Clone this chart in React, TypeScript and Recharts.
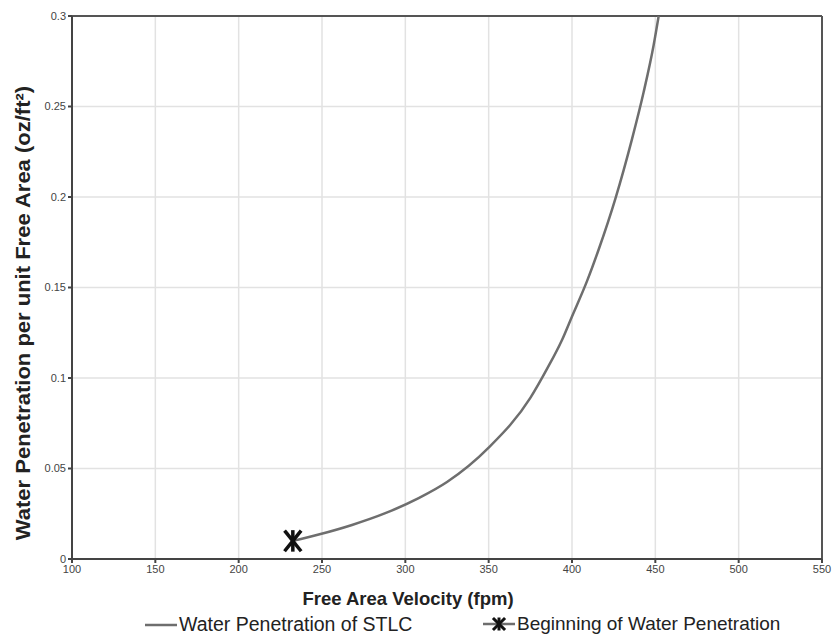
import React from "react";
import {
    ComposedChart,
    Line,
    Scatter,
    XAxis,
    YAxis,
    CartesianGrid,
    ReferenceLine,
} from "recharts";

// curve
const velocity = [232.5, 248, 268, 288, 308, 325, 350, 375, 385, 394, 400, 409, 416, 426, 436, 443, 449, 452];
const penetration = [0.01, 0.0135, 0.0188, 0.0253, 0.0336, 0.0425, 0.0615, 0.089, 0.105, 0.121, 0.134, 0.1535, 0.171, 0.199, 0.232, 0.258, 0.284, 0.3];

// marker where penetration starts
const startVelocity = [232.5];
const startPenetration = [0.01];

const xTicks = [100, 150, 200, 250, 300, 350, 400, 450, 500, 550];
const yTicks = [0, 0.05, 0.1, 0.15, 0.2, 0.25, 0.3];

const FONT = '"Liberation Sans", Arial, sans-serif';

const curve = velocity.map((v, i) => ({ x: v, y: penetration[i] }));
const start = startVelocity.map((v, i) => ({ x: v, y: startPenetration[i] }));

function StarMarker(props: any) {
    const { cx, cy } = props;
    const r = 9;
    return (
        <g stroke="#111" strokeWidth={3.5} strokeLinecap="square">
            <line x1={cx - r * 0.8} y1={cy - r} x2={cx + r * 0.8} y2={cy + r} />
            <line x1={cx - r * 0.8} y1={cy + r} x2={cx + r * 0.8} y2={cy - r} />
            <line x1={cx} y1={cy - r} x2={cx} y2={cy + r} />
        </g>
    );
}

export default function App() {
    return (
        <div style={{ position: "absolute", left: 0, top: 0, width: 840, height: 638, background: "#fff", fontFamily: FONT }}>
            <ComposedChart
                width={840}
                height={638}
                margin={{ top: 16, right: 18, bottom: 49, left: 0 }}
            >
                <CartesianGrid stroke="#e2e2e2" strokeWidth={1.5} />
                <XAxis
                    type="number"
                    dataKey="x"
                    domain={[100, 550]}
                    ticks={xTicks}
                    height={30}
                    tick={{ fill: "#444", fontSize: 11, fontFamily: FONT }}
                    tickSize={4}
                    stroke="#444"
                    strokeWidth={2}
                    allowDataOverflow
                />
                <YAxis
                    type="number"
                    dataKey="y"
                    domain={[0, 0.3]}
                    ticks={yTicks}
                    width={72}
                    tick={{ fill: "#444", fontSize: 11, fontFamily: FONT }}
                    tickSize={4}
                    stroke="#444"
                    strokeWidth={2}
                    allowDataOverflow
                />
                <ReferenceLine y={0.3} stroke="#555" strokeWidth={2} />
                <ReferenceLine x={550} stroke="#555" strokeWidth={2} />
                <Line
                    data={curve}
                    dataKey="y"
                    type="monotone"
                    stroke="#6e6e6e"
                    strokeWidth={2.5}
                    dot={false}
                    isAnimationActive={false}
                />
                <Scatter
                    data={start}
                    dataKey="y"
                    shape={<StarMarker />}
                    isAnimationActive={false}
                />
            </ComposedChart>
            <div
                style={{
                    position: "absolute",
                    left: 23,
                    top: 313,
                    transform: "translate(-50%, -50%) rotate(-90deg) scaleX(1.1)",
                    whiteSpace: "nowrap",
                    fontWeight: "bold",
                    fontSize: 20,
                    color: "#222",
                }}
            >
                Water Penetration per unit Free Area (oz/ft²)
            </div>
            <div
                style={{
                    position: "absolute",
                    left: 408,
                    top: 599,
                    transform: "translate(-50%, -50%)",
                    whiteSpace: "nowrap",
                    fontWeight: "bold",
                    fontSize: 18.5,
                    color: "#222",
                }}
            >
                Free Area Velocity (fpm)
            </div>
            <div style={{ position: "absolute", left: 144, top: 613, display: "flex", alignItems: "center", fontSize: 19.5, color: "#222", whiteSpace: "nowrap" }}>
                <svg width={35} height={20}>
                    <line x1={1} y1={10} x2={33} y2={10} stroke="#6e6e6e" strokeWidth={2.5} />
                </svg>
                <span>Water Penetration of STLC</span>
            </div>
            <div style={{ position: "absolute", left: 482, top: 613, display: "flex", alignItems: "center", fontSize: 19, color: "#222", whiteSpace: "nowrap" }}>
                <svg width={35} height={20}>
                    <line x1={1} y1={10} x2={33} y2={10} stroke="#6e6e6e" strokeWidth={2.5} />
                    <g stroke="#111" strokeWidth={3} strokeLinecap="square">
                        <line x1={12} y1={5} x2={22} y2={15} />
                        <line x1={12} y1={15} x2={22} y2={5} />
                        <line x1={17} y1={5} x2={17} y2={15} />
                    </g>
                </svg>
                <span>Beginning of Water Penetration</span>
            </div>
        </div>
    );
}
